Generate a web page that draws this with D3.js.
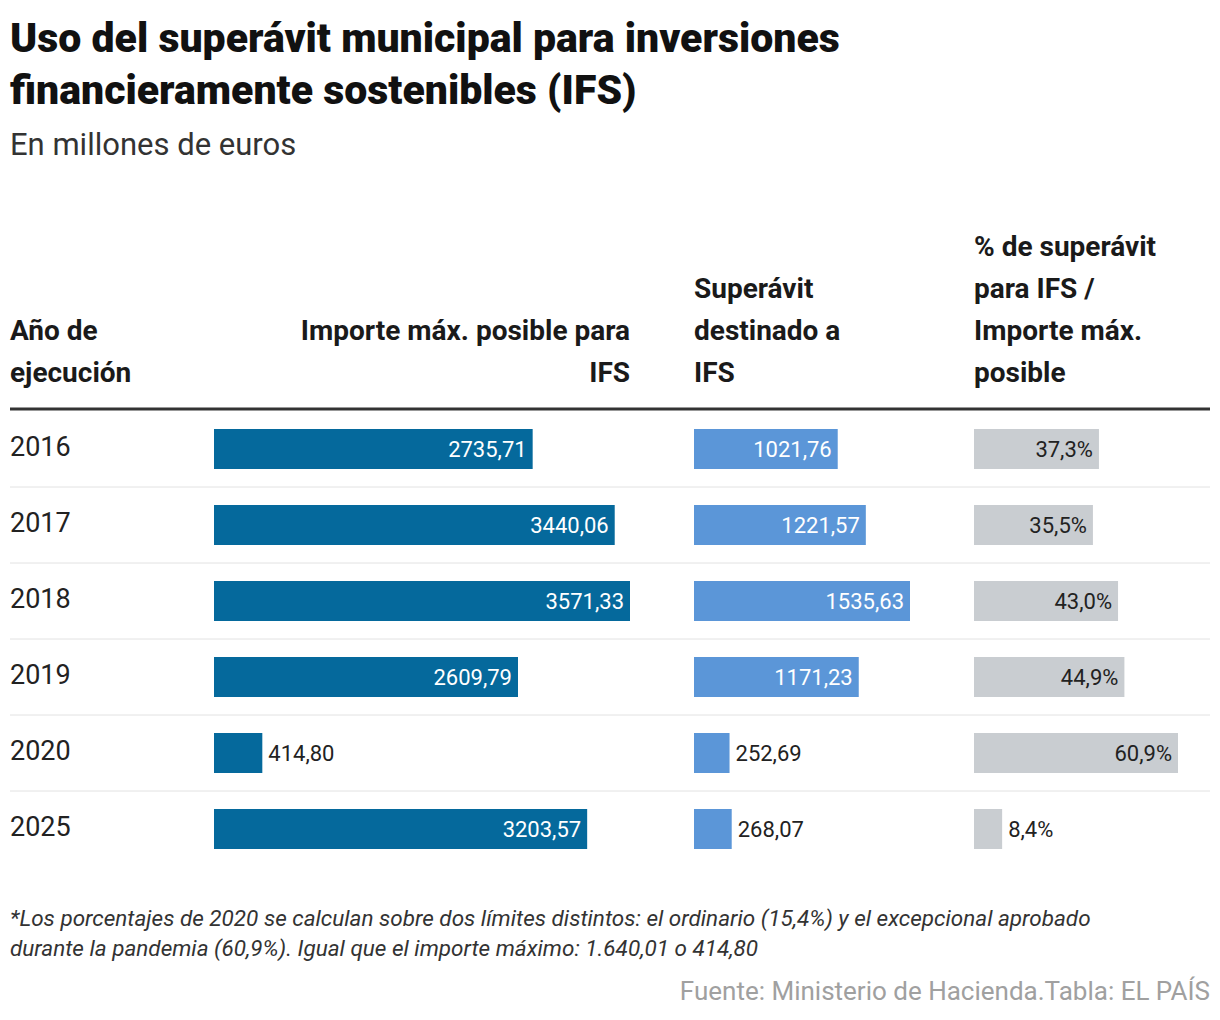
<!DOCTYPE html>
<html>
<head>
<meta charset="utf-8">
<script src="https://cdn.jsdelivr.net/npm/d3@7"></script>
<style>
  body { margin: 0; background: #fff; }
  text { font-family: Roboto, "Noto Sans", sans-serif; }
</style>
</head>
<body>
<svg id="chart" width="1220" height="1020"></svg>
<script>
const years = ["2016", "2017", "2018", "2019", "2020", "2025"];
const importeMax = [2735.71, 3440.06, 3571.33, 2609.79, 414.80, 3203.57];
const superavit = [1021.76, 1221.57, 1535.63, 1171.23, 252.69, 268.07];
const pct = [37.3, 35.5, 43.0, 44.9, 60.9, 8.4];

const svg = d3.select("#chart");
const fmt = (v, d) => v.toFixed(d).replace(".", ",");

// title block
svg.selectAll("text.title")
  .data(["Uso del superávit municipal para inversiones", "financieramente sostenibles (IFS)"])
  .join("text")
  .attr("x", 10).attr("y", (d, i) => 52 + i * 52)
  .attr("font-size", 41).attr("font-weight", 900).attr("fill", "#111")
  .text(d => d);
svg.append("text").attr("x", 10).attr("y", 155)
  .attr("font-size", 31).attr("fill", "#333").text("En millones de euros");

// columns
const cols = [
  { x: 214, w: 416, max: 3571.33, values: importeMax, color: "#05699c", dec: 2, suffix: "", inside: "#fff",
    head: ["Importe máx. posible para", "IFS"], anchor: "end", hx: 630 },
  { x: 694, w: 216, max: 1535.63, values: superavit, color: "#5b96d8", dec: 2, suffix: "", inside: "#fff",
    head: ["Superávit", "destinado a", "IFS"], anchor: "start", hx: 694 },
  { x: 974, w: 204, max: 60.9, values: pct, color: "#c9cdd1", dec: 1, suffix: "%", inside: "#222",
    head: ["% de superávit", "para IFS /", "Importe máx.", "posible"], anchor: "start", hx: 974 }
];

// headers
const headers = [{ head: ["Año de", "ejecución"], anchor: "start", hx: 10 }].concat(cols);
headers.forEach(h => {
  const n = h.head.length;
  svg.append("g").selectAll("text").data(h.head).join("text")
    .attr("x", h.hx).attr("y", (d, i) => 382 - (n - 1 - i) * 42)
    .attr("text-anchor", h.anchor)
    .attr("font-size", 28).attr("font-weight", 700).attr("fill", "#1a1a1a")
    .text(d => d);
});

svg.append("line").attr("x1", 10).attr("x2", 1210).attr("y1", 409).attr("y2", 409)
  .attr("stroke", "#333").attr("stroke-width", 3);

const y = d3.scaleBand().domain(years).range([411, 867]);
const barH = 40;

// row separators
svg.append("g").selectAll("line").data(years.slice(0, -1)).join("line")
  .attr("x1", 10).attr("x2", 1210)
  .attr("y1", d => y(d) + y.bandwidth()).attr("y2", d => y(d) + y.bandwidth())
  .attr("stroke", "#e2e2e2").attr("stroke-width", 1);

// years
svg.append("g").selectAll("text").data(years).join("text")
  .attr("x", 10).attr("y", d => y(d) + y.bandwidth() / 2 + 7)
  .attr("font-size", 27).attr("fill", "#222")
  .text(d => d);

cols.forEach(c => {
  const x = d3.scaleLinear().domain([0, c.max]).range([0, c.w]);
  const g = svg.append("g").attr("transform", `translate(${c.x},0)`);
  const rows = g.selectAll("g").data(years.map((yr, i) => ({ yr, v: c.values[i] }))).join("g")
    .attr("transform", d => `translate(0,${y(d.yr) + (y.bandwidth() - barH) / 2})`);
  rows.append("rect").attr("width", d => x(d.v)).attr("height", barH).attr("fill", c.color);
  rows.append("text")
    .attr("x", d => x(d.v) > 90 ? x(d.v) - 6 : x(d.v) + 6)
    .attr("y", barH / 2 + 8)
    .attr("text-anchor", d => x(d.v) > 90 ? "end" : "start")
    .attr("font-size", 22)
    .attr("fill", d => x(d.v) > 90 ? c.inside : "#222")
    .text(d => fmt(d.v, c.dec) + c.suffix);
});

// footnote
svg.append("g").selectAll("text")
  .data(["*Los porcentajes de 2020 se calculan sobre dos límites distintos: el ordinario (15,4%) y el excepcional aprobado",
         "durante la pandemia (60,9%). Igual que el importe máximo: 1.640,01 o 414,80"])
  .join("text")
  .attr("x", 10).attr("y", (d, i) => 926 + i * 30)
  .attr("font-size", 22.5).attr("font-style", "italic").attr("fill", "#333")
  .text(d => d);

svg.append("text").attr("x", 1210).attr("y", 1000).attr("text-anchor", "end")
  .attr("font-size", 26).attr("fill", "#a0a0a0")
  .text("Fuente: Ministerio de Hacienda.Tabla: EL PAÍS");
</script>
</body>
</html>
